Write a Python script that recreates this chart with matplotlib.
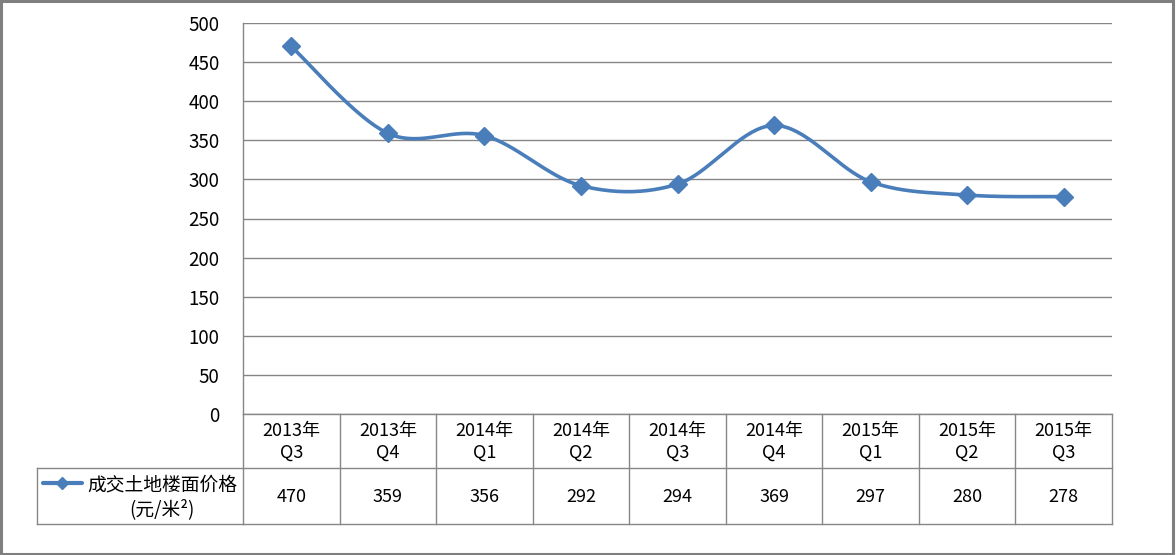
import numpy as np
import matplotlib
matplotlib.use("Agg")
import matplotlib.pyplot as plt
from matplotlib.lines import Line2D
from matplotlib.patches import Rectangle
from matplotlib.transforms import blended_transform_factory

plt.rcParams['font.family'] = ['Noto Sans CJK SC', 'DejaVu Sans']

categories = ["2013年\nQ3", "2013年\nQ4", "2014年\nQ1", "2014年\nQ2", "2014年\nQ3",
              "2014年\nQ4", "2015年\nQ1", "2015年\nQ2", "2015年\nQ3"]
values = [470, 359, 356, 292, 294, 369, 297, 280, 278]
series_name = "成交土地楼面价格\n(元/米²)"
yticks = [0, 50, 100, 150, 200, 250, 300, 350, 400, 450, 500]

W, H = 1176, 555
fig = plt.figure(figsize=(W / 100, H / 100), dpi=100)
fig.patch.set_facecolor('white')

def fy(py):
    return 1 - py / H

def fx(px):
    return px / W

ax_left, ax_right, ax_top, ax_bot = 243, 1112, 23, 414
ax = fig.add_axes([fx(ax_left), fy(ax_bot), fx(ax_right) - fx(ax_left), fy(ax_top) - fy(ax_bot)])

n = len(values)
x = np.arange(n)
y = np.array(values, dtype=float)

# Excel-like smoothed line (Catmull-Rom Bezier through the data points)
P = np.column_stack([x, y])
Pext = np.vstack([P[0], P, P[-1]])
curve = []
t = np.linspace(0, 1, 40)
for i in range(n - 1):
    p0, p1, p2, p3 = Pext[i], Pext[i + 1], Pext[i + 2], Pext[i + 3]
    c1 = p1 + (p2 - p0) / 6
    c2 = p2 - (p3 - p1) / 6
    seg = ((1 - t) ** 3)[:, None] * p1 + (3 * (1 - t) ** 2 * t)[:, None] * c1 \
        + (3 * (1 - t) * t ** 2)[:, None] * c2 + (t ** 3)[:, None] * p2
    curve.append(seg if i == 0 else seg[1:])
curve = np.vstack(curve)

color = '#4A7EBB'
ax.plot(curve[:, 0], curve[:, 1], color=color, lw=2.6, solid_capstyle='round', zorder=3)
ax.plot(x, y, linestyle='none', marker='D', markersize=9, color=color, zorder=4)

ax.set_xlim(-0.5, n - 0.5)
ax.set_ylim(0, 500)
ax.set_yticks(yticks)
ax.set_yticklabels([str(v) for v in yticks], fontsize=13.5, color='#000000')
ax.set_xticks([])
ax.tick_params(axis='y', length=0, pad=17)
ax.grid(axis='y', color='#868686', lw=1.0)
ax.set_axisbelow(True)
for s in ['top', 'right', 'bottom']:
    ax.spines[s].set_visible(False)
ax.spines['left'].set_color('#868686')
ax.spines['left'].set_linewidth(1.0)

# data table below the plot
tr = blended_transform_factory(ax.transData, fig.transFigure)
ftr = fig.transFigure
lc = '#878787'
row1_top, row1_bot, row2_bot = 414, 468, 524
left_legend = 37

def hline(x0, x1, py, trans):
    fig.add_artist(Line2D([x0, x1], [fy(py), fy(py)], transform=trans, color=lc, lw=1.0))

def vline(xx, py0, py1, trans):
    fig.add_artist(Line2D([xx, xx], [fy(py0), fy(py1)], transform=trans, color=lc, lw=1.0))

hline(-0.5, n - 0.5, row1_top, tr)
hline(-0.5, n - 0.5, row1_bot, tr)
hline(-0.5, n - 0.5, row2_bot, tr)
hline(fx(left_legend), fx(ax_left), row1_bot, ftr)
hline(fx(left_legend), fx(ax_left), row2_bot, ftr)
vline(fx(left_legend), row1_bot, row2_bot, ftr)
for b in np.arange(n + 1) - 0.5:
    vline(b, row1_top, row2_bot, tr)

for i, (c, v) in enumerate(zip(categories, values)):
    fig.text(i, fy(442), c, transform=tr, ha='center', va='center',
             fontsize=13, linespacing=1.3, color='#000000')
    fig.text(i, fy(497), str(v), transform=tr, ha='center', va='center',
             fontsize=13, color='#000000')

# legend key in the table
leg_y = fy(482.5)
fig.add_artist(Line2D([fx(43), fx(82)], [leg_y, leg_y], transform=ftr, color=color, lw=3.0,
                      solid_capstyle='round'))
fig.add_artist(Line2D([fx(62.5)], [leg_y], transform=ftr, marker='D', markersize=6, color=color,
                      linestyle='none'))
fig.text(fx(162), fy(497), series_name, transform=ftr, ha='center', va='center',
         fontsize=13.5, linespacing=1.25, color='#000000')

# outer frame
fig.add_artist(Rectangle((fx(1), fy(553.5)), fx(1173) - fx(1), fy(1) - fy(553.5), transform=ftr,
                         fill=False, edgecolor='#7F7F7F', lw=2.2))

fig.savefig('out.png', dpi=100, facecolor='white')
